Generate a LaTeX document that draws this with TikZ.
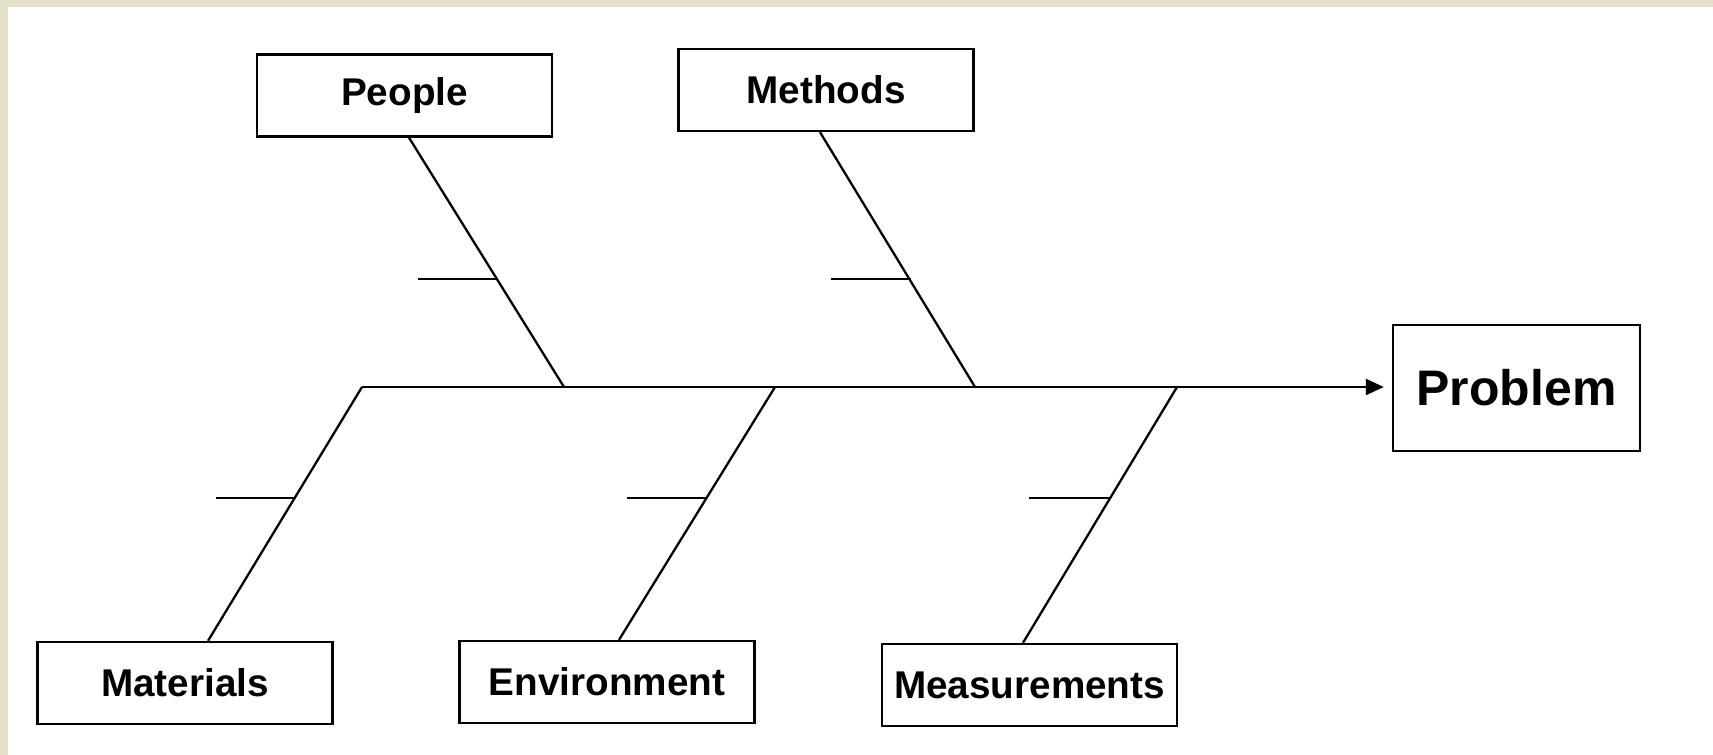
\documentclass[tikz,border=0pt]{standalone}
\usepackage{fontspec}
\setmainfont{Liberation Sans}
\usetikzlibrary{arrows.meta,positioning,calc}
\definecolor{framebeige}{RGB}{230,223,202}

\begin{document}
\begin{tikzpicture}[
  x=0.01cm, y=-0.01cm,
  every node/.style={font=\bfseries},
  cause/.style={draw, line width=0.65pt, fill=white, minimum width=2.95cm,
                minimum height=0.82cm, inner sep=0pt,
                font=\fontsize{11}{13}\selectfont\bfseries},
  effect/.style={draw, line width=0.65pt, fill=white, minimum width=2.47cm,
                 minimum height=1.26cm, inner sep=0pt,
                 font=\fontsize{14.2}{17}\selectfont\bfseries},
  bone/.style={line width=0.65pt},
  arrow/.style={-{Triangle[length=0.18cm, width=0.16cm]}, line width=0.65pt},
]

%% Frame
\useasboundingbox (0,0) rectangle (1713,755);
\fill[framebeige] (0,0) rectangle (1713,755);
\fill[white] (8,7) rectangle (1713,755);

%% Effect
\node[effect] (problem) at (1516.5,388) {Problem};

%% Causes (top row)
\node[cause] (people)  at (404.5,95.5) {People};
\node[cause] (methods) at (826,90)     {Methods};

%% Causes (bottom row)
\node[cause] (materials)    at (185,683)    {Materials};
\node[cause] (environment)  at (607,682)    {Environment};
\node[cause] (measurements) at (1029.5,685) {Measurements};

%% Spine joints
\coordinate (tail)     at (362,387);
\coordinate (jPeople)  at (564,387);
\coordinate (jMethods) at (975,387);
\coordinate (jEnv)     at (775,387);
\coordinate (jMeas)    at (1177,387);

%% Spine
\draw[arrow, shorten >=0.08cm] (tail) -- (tail -| problem.west);

%% Bones
\draw[bone] ([xshift=0.045cm]people.south)        -- (jPeople);
\draw[bone] ([xshift=-0.06cm]methods.south)       -- (jMethods);
\draw[bone] ([xshift=0.23cm]materials.north)      -- (tail);
\draw[bone] ([xshift=0.12cm]environment.north)    -- (jEnv);
\draw[bone] ([xshift=-0.065cm]measurements.north) -- (jMeas);

%% Ribs
\coordinate (rPeople)  at (418,279);  \coordinate (kPeople)  at (497,279);
\coordinate (rMethods) at (831,279);  \coordinate (kMethods) at (911,279);
\coordinate (rMat)     at (216,498);  \coordinate (kMat)     at (296,498);
\coordinate (rEnv)     at (627,498);  \coordinate (kEnv)     at (707,498);
\coordinate (rMeas)    at (1029,498); \coordinate (kMeas)    at (1110,498);
\draw[bone] (rPeople)  -- (kPeople);
\draw[bone] (rMethods) -- (kMethods);
\draw[bone] (rMat)     -- (kMat);
\draw[bone] (rEnv)     -- (kEnv);
\draw[bone] (rMeas)    -- (kMeas);

\end{tikzpicture}
\end{document}
